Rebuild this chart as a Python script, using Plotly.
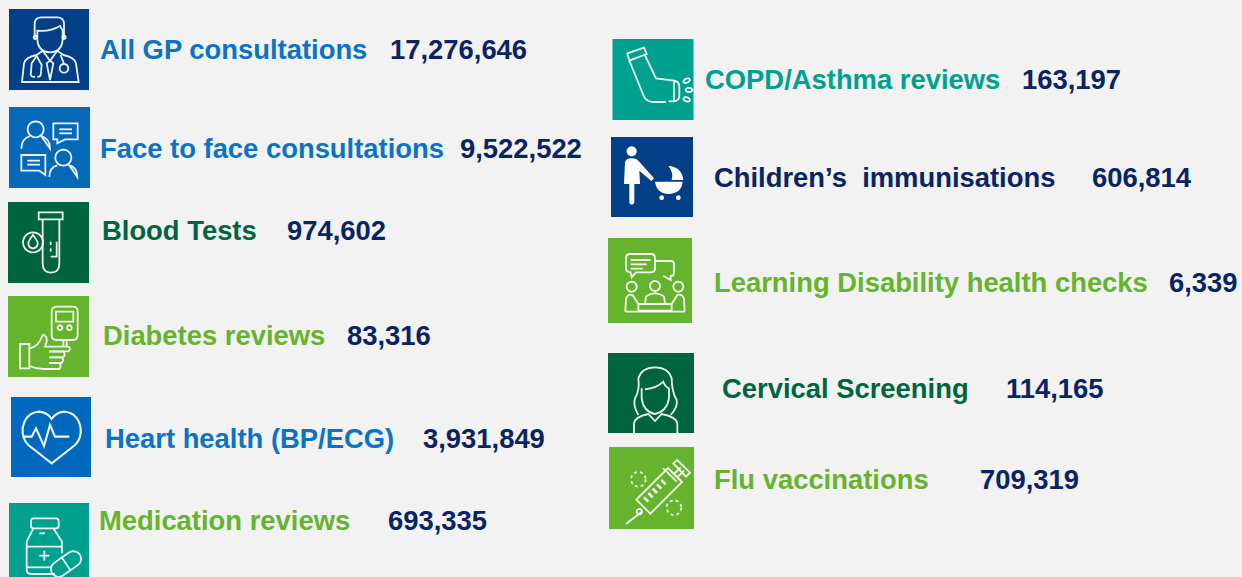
import math, re
import plotly.graph_objects as go

# ---- data ----
labels = ["All GP consultations", "Face to face consultations", "Blood Tests", "Diabetes reviews",
          "Heart health (BP/ECG)", "Medication reviews", "COPD/Asthma reviews",
          "Children’s  immunisations", "Learning Disability health checks", "Cervical Screening",
          "Flu vaccinations"]
values = [17276646, 9522522, 974602, 83316, 3931849, 693335, 163197, 606814, 6339, 114165, 709319]

# ---- layout / style ----
NAVY, DBLUE, BLUE, LBLUE = "#0A2463", "#023F87", "#0569B8", "#0B72C4"
DGREEN, GREEN, TEAL = "#00643F", "#66B32E", "#00A08F"
label_x = [100, 100, 102, 103, 105, 99, 705, 714, 714, 722, 714]
value_x = [390, 460, 287, 347, 423, 388, 1022, 1092, 1169, 1006, 980]
text_y = [50, 149, 231, 336, 439, 521, 80, 178, 283, 389, 480]
label_colors = [LBLUE, LBLUE, DGREEN, GREEN, LBLUE, GREEN, TEAL, NAVY, GREEN, DGREEN, GREEN]
boxes = [(9, 9, 89, 90, DBLUE), (9, 107, 90, 188, BLUE), (8, 202, 89, 283, DGREEN), (8, 296, 89, 377, GREEN),
         (11, 397, 91, 477, "#0069BD"), (9, 503, 89, 590, TEAL), (612.5, 39, 693.5, 120, TEAL),
         (611, 137, 693, 217, DBLUE), (608, 238, 692, 323, GREEN), (608, 353, 694, 433, DGREEN),
         (609, 447, 694, 529, GREEN)]
FONT = "Liberation Sans, Arial, sans-serif"
FS = 27.4

shapes, annotations = [], []

def tf(path, ox, oy):
    toks = re.findall(r"[MLQCZ]|-?\d+\.?\d*", path)
    out, isx = [], True
    for t in toks:
        if t in "MLQCZ":
            out.append(t); isx = True
        else:
            v = float(t) / 3 + (ox if isx else oy)
            out.append(f"{v:.2f}"); isx = not isx
    return " ".join(out)

def icon(paths, ox, oy, width=1.8, fill=None, dash=None):
    for p in paths:
        s = dict(type="path", xref="x", yref="y", path=tf(p, ox, oy),
                 line=dict(color="rgba(255,255,255,0.92)", width=width if not fill else 0))
        if fill:
            s["fillcolor"] = fill
        if dash:
            s["line"]["dash"] = dash
        shapes.append(s)

def ell(cx, cy, rx, ry=None, rot=0, n=28):
    ry = rx if ry is None else ry
    a = math.radians(rot)
    pts = []
    for i in range(n):
        t = 2 * math.pi * i / n
        x, y = rx * math.cos(t), ry * math.sin(t)
        pts.append((cx + x * math.cos(a) - y * math.sin(a), cy + x * math.sin(a) + y * math.cos(a)))
    return "M" + " L".join(f"{x:.1f} {y:.1f}" for x, y in pts) + " Z"

def capsule(cx, cy, half, r, rot, n=12):
    a = math.radians(rot)
    local = []
    for i in range(n + 1):
        t = -math.pi / 2 + math.pi * i / n
        local.append((half + r * math.cos(t), r * math.sin(t)))
    for i in range(n + 1):
        t = math.pi / 2 + math.pi * i / n
        local.append((-half + r * math.cos(t), r * math.sin(t)))
    pts = [(cx + x * math.cos(a) - y * math.sin(a), cy + x * math.sin(a) + y * math.cos(a)) for x, y in local]
    return "M" + " L".join(f"{x:.1f} {y:.1f}" for x, y in pts) + " Z"

for (x0, y0, x1, y1, c) in boxes:
    shapes.append(dict(type="rect", xref="x", yref="y", x0=x0, y0=y0, x1=x1, y1=y1,
                       fillcolor=c, line=dict(width=0)))

# doctor
icon(["M104 118 L104 72 Q104 52 124 52 L172 52 Q192 52 192 72 L192 118",
      "M112 118 L112 92 Q150 96 180 78 L188 92 L188 118 Q186 155 150 157 Q114 155 112 118",
      ell(106, 112, 5), ell(192, 112, 5),
      "M66 246 L72 190 Q76 172 110 165 L128 152 L150 182 L172 152 L190 165 Q224 172 228 190 L236 246 Z",
      "M140 190 L150 240 L160 190 L150 182 Z",
      "M110 168 L95 190 L92 225 Q95 232 105 230", "M110 168 L125 195 L122 225 Q118 232 112 230",
      ell(192, 205, 13), "M192 192 L182 165"], 0, 0)
# consultation
icon([ell(107, 388, 24), "M64 446 Q64 416 90 408 M124 408 Q150 416 150 446 Z",
      "M160 370 L233 370 L233 418 L195 418 L172 430 L172 418 L160 418 Z", "M178 388 L216 388", "M178 400 L216 400",
      "M64 465 L136 465 L136 525 L118 512 L64 512 Z", "M82 482 L120 482", "M82 494 L120 494",
      ell(190, 473, 24), "M148 531 Q148 502 172 496 M208 496 Q232 502 232 531 Z"], 0, 0)
# blood test
icon(["M116 637 L188 637 L188 658 L116 658 Z",
      "M128 658 L128 790 Q128 818 153 818 Q178 818 178 790 L178 658",
      "M152 725 L152 735", "M152 745 L152 755", "M152 770 L170 770 L170 725",
      ell(99, 727, 30), "M99 705 Q115 725 113 733 Q110 745 99 745 Q88 745 85 733 Q83 725 99 705 Z"], 0, 0)
# diabetes
icon(["M172 50 L218 50 Q233 50 233 65 L233 135 Q233 150 218 150 L170 150 Q155 150 155 135 L155 65 Q155 50 172 50 Z",
      "M168 65 L220 65 L220 95 L168 95 Z", ell(180, 113, 7), ell(208, 113, 7),
      "M190 150 L190 170", "M200 150 L200 170",
      "M60 162 L88 162 L88 235 L60 235 Z",
      "M88 175 Q115 172 128 135 Q142 135 140 155 L135 170 L205 170 Q215 175 205 184 L148 184",
      "M148 185 L190 185 Q198 195 190 202 L148 202", "M148 202 L185 202 Q193 210 185 219 L148 219",
      "M148 219 L178 219 Q186 228 178 237 L130 237 Q110 237 88 228"], 0, 290)
# heart
icon(["M155 520 L85 465 Q65 445 68 415 Q75 370 115 365 Q140 365 155 387 Q170 365 195 365 Q235 370 242 415 Q245 445 225 465 Z",
      "M72 440 L95 440 L108 415 L132 468 L150 405 L165 440 L208 440"], 0, 290, width=2.1)
# medication
icon(["M100 685 L168 685 Q176 685 176 693 L176 707 Q176 715 168 715 L100 715 Q93 715 93 707 L93 693 Q93 685 100 685 Z",
      "M100 715 L80 755 L80 840 Q80 852 95 852 L165 852", "M160 715 L186 755 L186 790",
      "M80 770 L186 770", "M80 832 L155 832", "M118 797 L148 797", "M133 782 L133 812", "M118 730 L135 730",
      capsule(198, 822, 27, 23, -35), "M184 800 L212 842"], 0, 290)
# inhaler
icon(["M82 70 L132 53 L140 72 L88 92 Z",
      "M88 92 L130 195 Q138 216 160 216 L198 216",
      "M135 76 L168 145 L222 152 Q238 155 238 170 L238 200 Q236 212 222 214 L206 214",
      "M222 155 L222 212", ell(260, 152, 10, 6, -25), ell(267, 180, 10, 6), ell(260, 208, 10, 6, 20)], 600, 30)
# children
icon([ell(95, 364, 15),
      "M75 395 Q80 385 95 385 Q110 385 118 395 L162 445 L154 453 L118 422 L120 462 L103 462 L103 518 Q95 530 88 518 L88 462 L72 462 Z",
      "M165 455 L248 455 Q245 490 205 492 Q170 490 165 455 Z",
      "M205 408 Q245 410 250 450 L215 450 Q222 428 205 408 Z",
      ell(185, 503, 7), ell(235, 503, 7)], 600, 30, fill="white")
# learning disability
icon(["M90 672 L153 672 Q165 672 165 684 L165 715 Q165 727 153 727 L108 727 L95 742 L92 727 Q78 727 78 715 L78 684 Q78 672 90 672 Z",
      "M92 690 L152 690", "M92 703 L140 703", "M92 716 L128 716",
      "M165 693 L212 693 Q222 693 222 703 L222 728 Q222 738 212 738 L212 750 L190 738",
      ell(95, 770, 15), ell(165, 768, 15), ell(235, 770, 15),
      "M76 845 L78 805 Q85 790 98 795 L115 822", "M254 845 L252 805 Q245 790 232 795 L215 822",
      "M135 822 L138 800 Q150 790 165 790 Q180 790 192 800 L195 822",
      "M115 822 L215 822 L215 842 L115 842 Z", "M76 845 L255 845"], 600, 30)
# cervical
icon(["M115 225 Q98 195 105 175 Q120 150 115 115 Q125 82 165 82 Q205 82 215 115 Q215 155 230 180 Q235 200 212 225",
      "M125 145 L125 175 Q130 215 165 222 Q200 215 207 175 L207 145",
      "M135 148 Q170 145 190 125 Q195 140 207 145",
      "M102 280 L102 250 Q105 230 145 222 L165 243 L185 222 Q228 230 232 250 L232 280"], 600, 340)
# flu
icon(["M109 479 L204 384 L246 426 L151 521 Z",
      "M190 385 L230 425", "M222 402 L242 382", "M232 412 L252 392",
      "M220 370 L232 360 L270 398 L258 410 Z",
      "M125 515 L78 552", ell(118, 515, 8)], 600, 340)
icon(["M132 472 L145 485", "M145 459 L158 472", "M158 446 L171 459", "M171 433 L184 446", "M184 420 L197 433"],
     600, 340, width=2.6)
icon([ell(115, 418, 22), ell(222, 503, 22)], 600, 340, width=1.8, dash="dot")

for lab, val, lx, vx, ty, c in zip(labels, values, label_x, value_x, text_y, label_colors):
    annotations.append(dict(x=lx, y=ty, xref="x", yref="y", text=f"<b>{lab}</b>", showarrow=False,
                            xanchor="left", yanchor="middle", xshift=-2, yshift=0.5,
                            font=dict(family=FONT, size=FS, color=c)))
    annotations.append(dict(x=vx, y=ty, xref="x", yref="y", text=f"<b>{val:,}</b>", showarrow=False,
                            xanchor="left", yanchor="middle", xshift=-2, yshift=0.5,
                            font=dict(family=FONT, size=FS, color=NAVY)))

fig = go.Figure()
fig.update_layout(width=1242, height=577, margin=dict(l=0, r=0, t=0, b=0), autosize=False,
                  paper_bgcolor="#F2F2F2", plot_bgcolor="#F2F2F2", showlegend=False,
                  shapes=shapes, annotations=annotations,
                  xaxis=dict(range=[0, 1242], visible=False, fixedrange=True),
                  yaxis=dict(range=[577, 0], visible=False, fixedrange=True))
fig.write_html("out.html", config={"displayModeBar": False},
               post_script="document.body.style.margin='0';document.body.style.overflow='hidden';document.body.style.background='#F2F2F2';")
